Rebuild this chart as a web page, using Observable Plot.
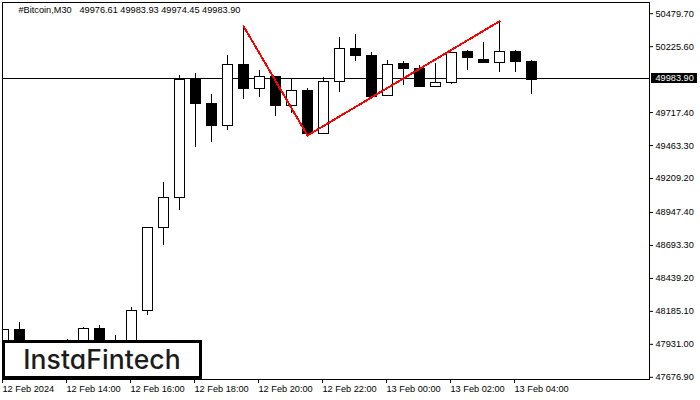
<!DOCTYPE html>
<html><head><meta charset="utf-8">
<script src="https://cdn.jsdelivr.net/npm/d3@7"></script>
<script src="https://cdn.jsdelivr.net/npm/@observablehq/plot@0.6"></script>
<style>
html,body{margin:0;padding:0;background:#fff;}
#wrap{position:relative;width:700px;height:400px;overflow:hidden;}
svg{display:block;}
#logo{position:absolute;left:2px;top:340px;width:194px;height:33px;border:3px solid #000;background:#fff;
 font:500 26.5px Inter,Lato,sans-serif;font-feature-settings:"cv11";color:#1c1c1c;text-align:center;line-height:33px;letter-spacing:0.1px;}
</style></head><body>
<div id="wrap"><div id="chart"></div><div id="logo">InstaFintech</div></div>
<script>
const startTime = Date.UTC(2024,1,12,12,0);
const halfHour = 30*60*1000;
const opens  = [47926,48049,47926,47865,47885,47905,48055,47905,47935,48194,48833,49064,49981,49791,49616,50089,49901,49997,49770,49889,49555,49958,50215,50161,49847,50092,50058,49917,49951,50192,50130,50105,50192,50115,49976.61];
const highs  = [48049,48101,47930,47905,47970,48063,48078,48003,48217,48833,49175,50007,50015,49860,50161,50384,50038,49997,49976,49904,49989,50300,50323,50184,50120,50115,50084,50092,50182,50197,50261,50421,50197,50120,49983.93];
const lows   = [47905,47885,47835,47835,47855,47885,47885,47875,47905,48150,48691,48961,49447,49485,49578,49816,49837,49691,49714,49544,49555,49876,50109,49837,49840,49930,49909,49917,49932,50040,50094,50025,50025,49860,49974.45];
const closes = [48049,47926,47865,47885,47905,48055,47905,47935,48194,48833,49064,49974,49786,49616,50089,49901,49997,49770,49889,49555,49958,50213,50156,49845,50089,50055,49917,49951,50182,50140,50102,50189,50109,49971,49983.90];
const priceTicks = [50479.70,50225.60,49717.40,49463.30,49209.20,48947.40,48693.30,48439.20,48185.10,47931.00,47676.90];
const lastPrice = 49983.90;
const timeTickSteps = [0,4,8,12,16,20,24,28,32];
const timeTickLabels = ["12 Feb 2024","12 Feb 14:00","12 Feb 16:00","12 Feb 18:00","12 Feb 20:00","12 Feb 22:00","13 Feb 00:00","13 Feb 02:00","13 Feb 04:00"];
const patternSteps = [15,19,31];
const patternPrices = [50384,49541,50421];
const symbolLabel = "#Bitcoin,M30";
const ohlcLabel = "49976.61 49983.93 49974.45 49983.90";

const at = i => new Date(startTime + i*halfHour);
const candles = opens.map((o,i)=>({t:at(i),o,h:highs[i],l:lows[i],c:closes[i],up:closes[i]>=o}));
const bodies = candles.slice(0,-1);
const pattern = patternSteps.map((s,i)=>({t:at(s),p:patternPrices[i]}));
const bodyHalf = 9.375*60*1000;
const font = "'Liberation Sans',Arial,sans-serif";

const plot = Plot.plot({
  width:700,height:400,
  marginLeft:2,marginRight:51,marginTop:2,marginBottom:21,
  style:{fontFamily:font,fontSize:"9.2px",color:"#000",background:"#fff",overflow:"visible"},
  x:{type:"utc",domain:[new Date(startTime-1.875*60000),new Date(startTime+1211.25*60000)]},
  y:{domain:[47660,50566]},
  marks:[
    Plot.ruleY([lastPrice],{stroke:"#000",strokeWidth:1,shapeRendering:"crispEdges"}),
    Plot.ruleX(candles,{x:"t",y1:"l",y2:"h",stroke:"#000",strokeWidth:1,clip:true,shapeRendering:"crispEdges"}),
    Plot.rect(bodies,{x1:d=>new Date(+d.t-bodyHalf),x2:d=>new Date(+d.t+bodyHalf),y1:"o",y2:"c",
      fill:d=>d.up?"#fff":"#000",stroke:"#000",strokeWidth:1,dx:0.5,dy:0.5,clip:true,shapeRendering:"crispEdges"}),
    Plot.line(pattern,{x:"t",y:"p",stroke:"#ff0000",strokeWidth:2,shapeRendering:"crispEdges"}),
    Plot.frame({stroke:"#000",strokeWidth:1,shapeRendering:"crispEdges"}),
    Plot.axisY(priceTicks,{anchor:"right",label:null,tickSize:3,tickPadding:3,tickFormat:d3.format(".2f"),fill:"#000",stroke:"#000"}),
    Plot.ruleY([lastPrice],{stroke:"#000",strokeWidth:10,insetLeft:649,insetRight:-48,shapeRendering:"crispEdges"}),
    Plot.axisY([lastPrice],{anchor:"right",label:null,tickSize:0,tickPadding:6,tickFormat:d3.format(".2f"),fill:"#fff"}),
    Plot.axisX(timeTickSteps.map(at),{anchor:"bottom",label:null,tickSize:4,tickPadding:2,textAnchor:"start",dx:-1,
      tickFormat:(d,i)=>timeTickLabels[i],fill:"#000",stroke:"#000"}),
    Plot.text([symbolLabel],{frameAnchor:"top-left",dx:16,dy:4,textAnchor:"start",lineAnchor:"top",fill:"#000"}),
    Plot.text([ohlcLabel],{frameAnchor:"top-left",dx:77,dy:4,textAnchor:"start",lineAnchor:"top",fill:"#000"})
  ]
});
document.getElementById("chart").appendChild(plot);
</script>
</body></html>
